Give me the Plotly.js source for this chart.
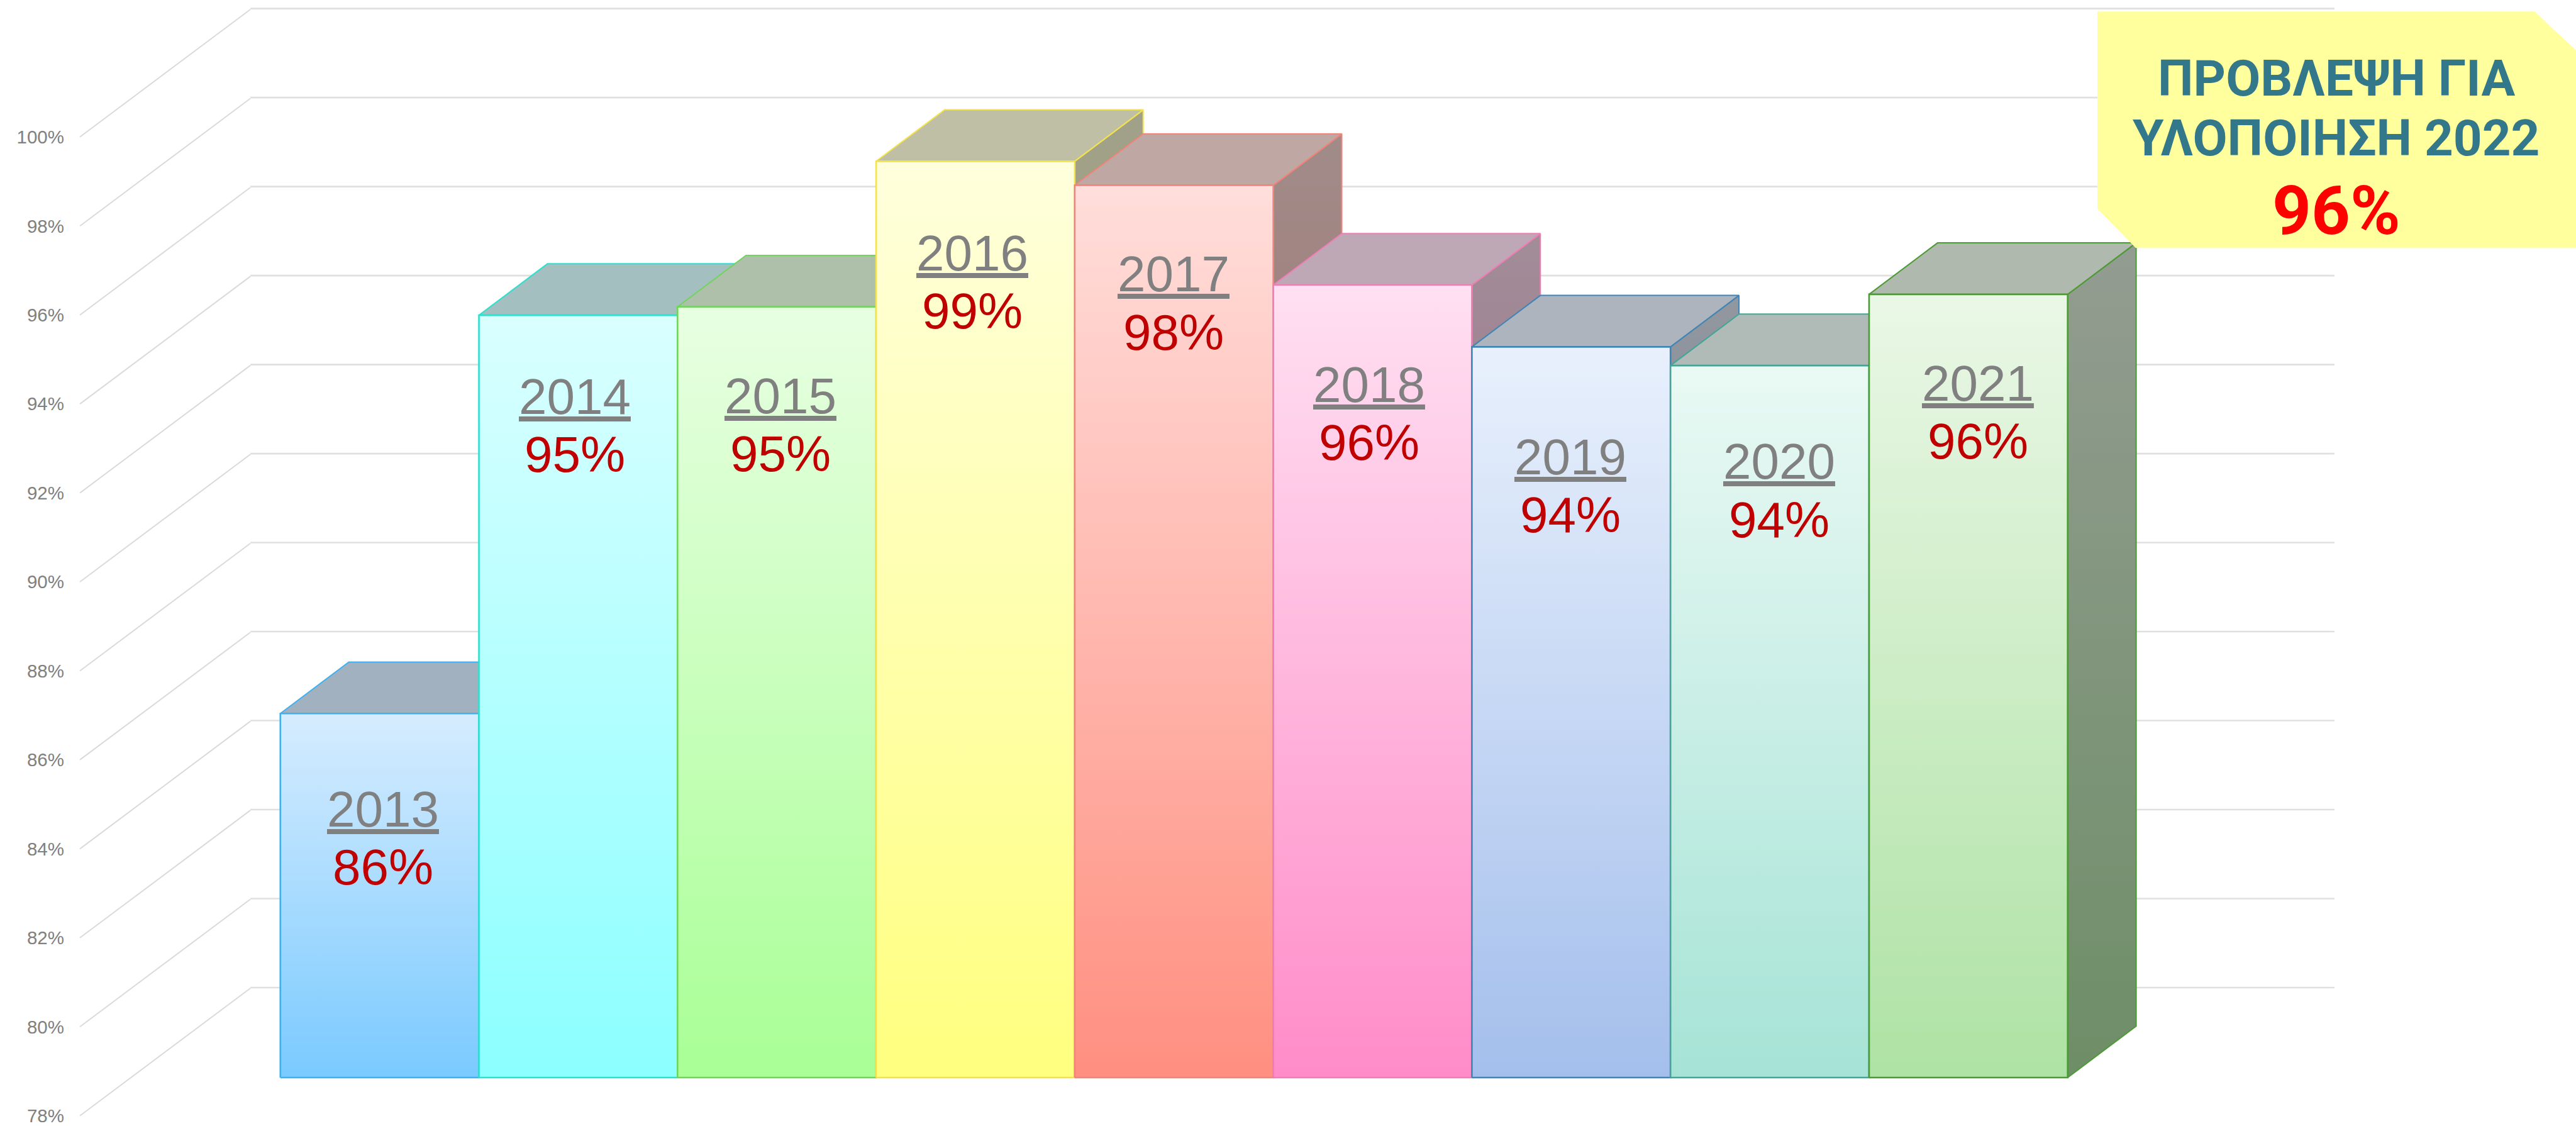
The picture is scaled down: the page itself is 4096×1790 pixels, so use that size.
<!DOCTYPE html>
<html><head><meta charset="utf-8">
<script src="https://cdn.plot.ly/plotly-3.0.1.min.js"></script>
<style>html,body{margin:0;padding:0;background:#fff;overflow:hidden}</style>
</head><body><div id="chart" style="width:4096px;height:1790px"></div>
<script>
// ---- data ----
const years = ['2013','2014','2015','2016','2017','2018','2019','2020','2021'];
const values = [86.18,95.13,95.32,98.59,98.05,95.81,94.42,94.0,95.6];
const valueLabels = ['86%','95%','95%','99%','98%','96%','94%','94%','96%'];
const tickValues = [78,80,82,84,86,88,90,92,94,96,98,100];
const tickLabels = ['78%','80%','82%','84%','86%','88%','90%','92%','94%','96%','98%','100%'];
const frontTop = ['#D6ECFE','#DAFFFF','#E8FFE2','#FFFFDD','#FFDEDB','#FFE0F2','#E8F0FC','#EAF9F4','#EAF7E6'];
const frontBottom = ['#7ACAFF','#8CFFFF','#A9FF96','#FFFF7F','#FF8F80','#FF8CC8','#A4BFEC','#A6E3D6','#AEE2A4'];
const edgeColors = ['#3FB0F0','#2EE0D0','#6FD65A','#F2E34C','#F08478','#F07DB5','#3F85B5','#43A596','#4C9A35'];
const noteLines = ['ΠΡΟΒΛΕΨΗ ΓΙΑ','ΥΛΟΠΟΙΗΣΗ 2022','96%'];

// ---- layout constants (measured in reference pixels) ----
const f = 4096/4383, W = 4096, H = 1790, marginL = 103;
const barLeft = 477, barUnit = 337.9, pxPerPct = 75.7, floorPx = 1833;
const X = px => (px-barLeft)/barUnit;
const Y2 = py => 78+(floorPx-py)/pxPerPct;
const depthX = 116.5/barUnit, depthY = 87.5/pxPerPct;
const wallFrontX = X(136), wallBackX = X(426), wallEndX = X(3972);
const wallOffset = Y2(1680)-78;      // back-wall height of the 78 line, on the bar axis
const wallRise = 217/pxPerPct;       // rise of a floor-to-wall diagonal
const labelDrop = [192.5,168,181,186,181,199,217,193,181];
const pctGap = 99;
const labelShift = [6,-6,6,-5,-1,-6,-1,16,16];
const labelFont = 80;

const xRange = [ (marginL/f-barLeft)/barUnit, (W/f-barLeft)/barUnit ];
const yRange2 = [Y2(H/f), Y2(0)];
const labelPxPerPct = 151.36;  // per two percent, 78 sits near 1898, 100 at 232
const YL = py => 78+(1898-py)/(labelPxPerPct/2);
const yRange1 = [YL(H/f), YL(0)];

function shade(hex,k){
  const n=parseInt(hex.slice(1),16);
  const c=[n>>16,(n>>8)&255,n&255].map(v=>Math.round(v*k));
  return 'rgb('+c.join(',')+')';
}

const traces = [];
// floor-to-wall diagonals, tied to the tick-label axis
const dx=[],dy=[];
tickValues.forEach(t=>{dx.push(wallFrontX,wallBackX,null);dy.push(t,t+wallRise,null);});
traces.push({x:dx,y:dy,xaxis:'x',yaxis:'y',mode:'lines',line:{color:'#DADADA',width:2},hoverinfo:'skip'});
// back-wall lines
const wx=[],wy=[];
tickValues.forEach(t=>{wx.push(wallBackX,wallEndX,null);wy.push(t+wallOffset,t+wallOffset,null);});
traces.push({x:wx,y:wy,xaxis:'x',yaxis:'y2',mode:'lines',line:{color:'#E0E0E0',width:2.6},hoverinfo:'skip'});

function poly(xs,ys,lineColor,lw,fill){
  return Object.assign({x:xs.concat(xs[0]),y:ys.concat(ys[0]),xaxis:'x',yaxis:'y2',mode:'lines',fill:'toself',
    line:{color:lineColor,width:lw},hoverinfo:'skip'},fill);
}
years.forEach((yr,i)=>{
  const l=i,r=i+1,v=values[i],b=78,c=edgeColors[i];
  // right side
  traces.push(poly([r,r+depthX,r+depthX,r],[v,v+depthY,b+depthY,b],c,2,
    {fillgradient:{type:'vertical',colorscale:[[0,shade(frontBottom[i],.63)],[1,shade(frontTop[i],.63)]]}}));
  // top
  traces.push(poly([l,l+depthX,r+depthX,r],[v,v+depthY,v+depthY,v],c,2,
    {fillcolor:shade(frontTop[i],.75)}));
  // front
  traces.push(poly([l,r,r,l],[b,b,v,v],c,2.6,
    {fillgradient:{type:'vertical',colorscale:[[0,frontBottom[i]],[1,frontTop[i]]]}}));
});

const annotations=[];
const ascentFix = .3465*labelFont;
years.forEach((yr,i)=>{
  const common={xref:'x',yref:'y2',x:i+.5,y:values[i],xanchor:'center',yanchor:'middle',showarrow:false,xshift:labelShift[i]*f};
  annotations.push(Object.assign({},common,{text:yr,yshift:-(labelDrop[i]*f-ascentFix),
    font:{family:'Liberation Sans',size:labelFont,color:'#808080',lineposition:'under'}}));
  annotations.push(Object.assign({},common,{text:valueLabels[i],yshift:-((labelDrop[i]+pctGap)*f-ascentFix),
    font:{family:'Liberation Sans',size:labelFont,color:'#C00000'}}));
});
const noteBase=[162.5,265,398], noteSize=[80,80,108], noteColor=['#33788A','#33788A','#FF0000'];
noteLines.forEach((t,i)=>{
  annotations.push({xref:'x',yref:'y2',x:X(3975),y:Y2(noteBase[i]-.3415*noteSize[i]/f),xanchor:'center',yanchor:'middle',showarrow:false,
    text:'<b>'+t+'</b>',font:{family:'Roboto',size:noteSize[i],color:noteColor[i]}});
});

const boxPts=[[3568.7,19.6],[4312.5,19.6],[4383,85.7],[4383,422],[3634,422],[3568.7,355]];
const boxPath='M'+boxPts.map(p=>X(p[0])+','+Y2(p[1])).join('L')+'Z';

const layout={
  width:W,height:H,margin:{l:marginL,r:0,t:0,b:0,pad:0},
  paper_bgcolor:'#fff',plot_bgcolor:'#fff',showlegend:false,hovermode:false,
  xaxis:{range:xRange,visible:false,fixedrange:true},
  yaxis:{range:yRange1,tickmode:'array',tickvals:tickValues,ticktext:tickLabels,showgrid:false,zeroline:false,showline:false,
    ticks:'',ticklabeloverflow:'allow',tickfont:{family:'Liberation Sans',size:29.5,color:'#808080'},fixedrange:true},
  yaxis2:{range:yRange2,overlaying:'y',visible:false,fixedrange:true},
  shapes:[{type:'path',xref:'x',yref:'y2',path:boxPath,fillcolor:'#FFFF9E',line:{width:0},layer:'above'}],
  annotations
};
Plotly.newPlot('chart',traces,layout,{displayModeBar:false,responsive:false});
</script></body></html>
